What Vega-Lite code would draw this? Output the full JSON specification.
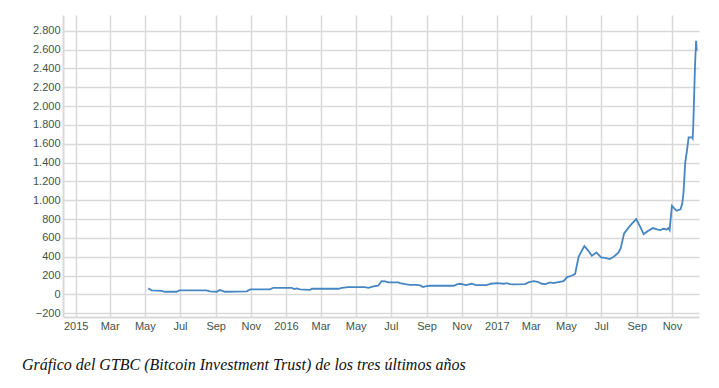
{
  "$schema": "https://vega.github.io/schema/vega-lite/v6.json",
  "width": 636,
  "height": 302,
  "autosize": "none",
  "padding": {"left": 63, "top": 15, "right": 20, "bottom": 71},
  "background": "white",
  "title": {
    "text": "Gráfico del GTBC (Bitcoin Investment Trust) de los tres últimos años",
    "orient": "bottom",
    "anchor": "start",
    "frame": "group",
    "dx": -41,
    "offset": 26,
    "font": "Liberation Serif",
    "fontStyle": "italic",
    "fontWeight": "normal",
    "fontSize": 16,
    "color": "#111111"
  },
  "config": {
    "locale": {
      "number": {"decimal": ",", "thousands": ".", "grouping": [3], "currency": ["", " €"]}
    },
    "view": {"stroke": null},
    "axis": {
      "labelFont": "Liberation Sans",
      "labelFontSize": 11,
      "labelColor": "#3e5449",
      "gridColor": "#d9d9d9",
      "gridWidth": 1.5,
      "domainColor": "#d9d9d9",
      "domainWidth": 2,
      "ticks": false,
      "title": null
    }
  },
  "data": {
    "values": [
      {"date": "2015-05-07", "price": 64},
      {"date": "2015-05-13", "price": 42},
      {"date": "2015-05-30", "price": 38},
      {"date": "2015-06-05", "price": 28},
      {"date": "2015-06-25", "price": 28},
      {"date": "2015-06-30", "price": 42},
      {"date": "2015-08-16", "price": 42},
      {"date": "2015-08-22", "price": 32},
      {"date": "2015-09-03", "price": 28},
      {"date": "2015-09-08", "price": 46},
      {"date": "2015-09-13", "price": 38},
      {"date": "2015-09-17", "price": 28},
      {"date": "2015-10-25", "price": 32},
      {"date": "2015-10-31", "price": 53},
      {"date": "2015-12-04", "price": 53},
      {"date": "2015-12-10", "price": 70},
      {"date": "2016-01-11", "price": 70},
      {"date": "2016-01-15", "price": 56},
      {"date": "2016-01-20", "price": 64},
      {"date": "2016-01-25", "price": 53},
      {"date": "2016-02-12", "price": 49},
      {"date": "2016-02-15", "price": 60},
      {"date": "2016-04-01", "price": 60},
      {"date": "2016-04-07", "price": 70},
      {"date": "2016-04-18", "price": 78},
      {"date": "2016-05-17", "price": 78},
      {"date": "2016-05-23", "price": 70},
      {"date": "2016-06-01", "price": 85},
      {"date": "2016-06-09", "price": 92},
      {"date": "2016-06-15", "price": 141},
      {"date": "2016-06-21", "price": 138},
      {"date": "2016-06-27", "price": 127},
      {"date": "2016-07-14", "price": 127},
      {"date": "2016-07-17", "price": 120},
      {"date": "2016-07-26", "price": 109},
      {"date": "2016-08-03", "price": 102},
      {"date": "2016-08-15", "price": 102},
      {"date": "2016-08-21", "price": 96},
      {"date": "2016-08-26", "price": 78},
      {"date": "2016-09-01", "price": 88},
      {"date": "2016-09-07", "price": 92},
      {"date": "2016-10-18", "price": 92},
      {"date": "2016-10-24", "price": 106},
      {"date": "2016-10-29", "price": 113},
      {"date": "2016-11-09", "price": 99},
      {"date": "2016-11-18", "price": 113},
      {"date": "2016-11-26", "price": 99},
      {"date": "2016-12-14", "price": 99},
      {"date": "2016-12-22", "price": 113},
      {"date": "2017-01-01", "price": 120},
      {"date": "2017-01-07", "price": 117},
      {"date": "2017-01-13", "price": 113},
      {"date": "2017-01-18", "price": 120},
      {"date": "2017-01-24", "price": 109},
      {"date": "2017-01-30", "price": 106},
      {"date": "2017-02-19", "price": 109},
      {"date": "2017-02-25", "price": 127},
      {"date": "2017-03-06", "price": 141},
      {"date": "2017-03-13", "price": 134},
      {"date": "2017-03-20", "price": 113},
      {"date": "2017-03-26", "price": 109},
      {"date": "2017-04-04", "price": 127},
      {"date": "2017-04-09", "price": 120},
      {"date": "2017-04-18", "price": 131},
      {"date": "2017-04-27", "price": 141},
      {"date": "2017-05-03", "price": 184},
      {"date": "2017-05-11", "price": 198},
      {"date": "2017-05-17", "price": 218},
      {"date": "2017-05-23", "price": 400},
      {"date": "2017-06-02", "price": 513},
      {"date": "2017-06-09", "price": 463},
      {"date": "2017-06-15", "price": 410},
      {"date": "2017-06-23", "price": 446},
      {"date": "2017-07-01", "price": 393},
      {"date": "2017-07-08", "price": 389},
      {"date": "2017-07-16", "price": 375},
      {"date": "2017-07-23", "price": 400},
      {"date": "2017-07-31", "price": 442},
      {"date": "2017-08-04", "price": 489},
      {"date": "2017-08-10", "price": 648},
      {"date": "2017-08-18", "price": 712},
      {"date": "2017-08-24", "price": 754},
      {"date": "2017-08-31", "price": 800},
      {"date": "2017-09-07", "price": 718},
      {"date": "2017-09-13", "price": 641},
      {"date": "2017-09-21", "price": 676},
      {"date": "2017-09-29", "price": 704},
      {"date": "2017-10-06", "price": 690},
      {"date": "2017-10-12", "price": 683},
      {"date": "2017-10-17", "price": 697},
      {"date": "2017-10-23", "price": 690},
      {"date": "2017-10-26", "price": 704},
      {"date": "2017-10-28", "price": 683},
      {"date": "2017-11-01", "price": 940},
      {"date": "2017-11-09", "price": 888},
      {"date": "2017-11-16", "price": 903},
      {"date": "2017-11-19", "price": 967},
      {"date": "2017-11-21", "price": 1073},
      {"date": "2017-11-24", "price": 1391},
      {"date": "2017-11-28", "price": 1568},
      {"date": "2017-11-30", "price": 1668},
      {"date": "2017-12-06", "price": 1668},
      {"date": "2017-12-07", "price": 1657},
      {"date": "2017-12-08", "price": 1780},
      {"date": "2017-12-10", "price": 2205},
      {"date": "2017-12-11", "price": 2418},
      {"date": "2017-12-13", "price": 2694},
      {"date": "2017-12-14", "price": 2590}
    ]
  },
  "mark": {"type": "line", "color": "#4586c3", "strokeWidth": 1.8, "interpolate": "linear"},
  "encoding": {
    "x": {
      "field": "date",
      "type": "temporal",
      "scale": {
        "domain": [
          {"year": 2014, "month": 12, "date": 10},
          {"year": 2017, "month": 12, "date": 18}
        ]
      },
      "axis": {
        "tickCount": {"interval": "month", "step": 2},
        "labelExpr": "month(datum.value) == 0 ? timeFormat(datum.value, '%Y') : timeFormat(datum.value, '%b')",
        "labelPadding": 3,
        "labelFlush": false,
        "labelOverlap": false
      }
    },
    "y": {
      "field": "price",
      "type": "quantitative",
      "scale": {"domain": [-240, 2967], "nice": false, "zero": false},
      "axis": {
        "values": [-200, 0, 200, 400, 600, 800, 1000, 1200, 1400, 1600, 1800, 2000, 2200, 2400, 2600, 2800],
        "format": ",d",
        "labelPadding": 3,
        "labelFlush": false,
        "labelOverlap": false
      }
    }
  }
}
